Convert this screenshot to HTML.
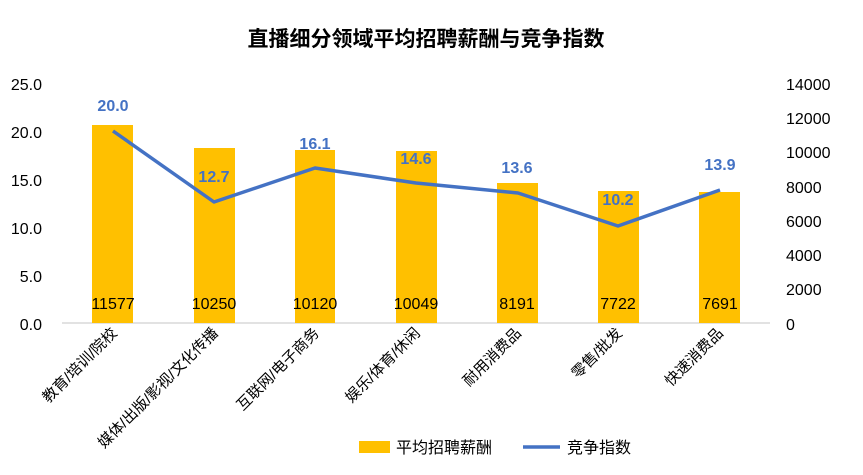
<!DOCTYPE html>
<html><head><meta charset="utf-8"><style>
body{margin:0;background:#fff;}
svg text{font-family:"Liberation Sans","Noto Sans CJK SC",sans-serif;}
</style></head><body>
<svg width="863" height="470" viewBox="0 0 863 470" xmlns="http://www.w3.org/2000/svg">
<rect width="863" height="470" fill="#fff"/>
<text x="426" y="46" text-anchor="middle" font-size="21" font-weight="bold" fill="#000">直播细分领域平均招聘薪酬与竞争指数</text>
<g font-size="16" fill="#000" text-anchor="end">
<text x="42" y="90">25.0</text><text x="42" y="138">20.0</text><text x="42" y="186">15.0</text>
<text x="42" y="234">10.0</text><text x="42" y="282">5.0</text><text x="42" y="330">0.0</text>
</g>
<g font-size="16" fill="#000">
<text x="786" y="90">14000</text><text x="786" y="124">12000</text><text x="786" y="158">10000</text>
<text x="786" y="193">8000</text><text x="786" y="227">6000</text><text x="786" y="261">4000</text>
<text x="786" y="295">2000</text><text x="786" y="330">0</text>
</g>
<line x1="62" y1="323" x2="770" y2="323" stroke="#d9d9d9" stroke-width="1.5"/>
<g fill="#FFC000">
<rect x="92" y="125" width="41" height="198"/>
<rect x="194" y="148" width="41" height="175"/>
<rect x="295" y="150" width="40" height="173"/>
<rect x="396" y="151" width="41" height="172"/>
<rect x="497" y="183" width="41" height="140"/>
<rect x="598" y="191" width="41" height="132"/>
<rect x="699" y="192" width="41" height="131"/>
</g>
<g font-size="16" fill="#000" text-anchor="middle">
<text x="113" y="309">11577</text><text x="214" y="309">10250</text><text x="315" y="309">10120</text>
<text x="416" y="309">10049</text><text x="517" y="309">8191</text><text x="618" y="309">7722</text><text x="720" y="309">7691</text>
</g>
<polyline points="113,131 214,202 315,168 416,183 518,193 618,226 720,190" fill="none" stroke="#4472C4" stroke-width="3.5" stroke-linejoin="round"/>
<g font-size="16" font-weight="bold" fill="#4472C4" text-anchor="middle">
<text x="113" y="111">20.0</text><text x="214" y="182">12.7</text><text x="315" y="149">16.1</text>
<text x="416" y="164">14.6</text><text x="517" y="173">13.6</text><text x="618" y="205">10.2</text><text x="720" y="170">13.9</text>
</g>
<g font-size="15" fill="#000" text-anchor="end">
<text transform="translate(118,334) rotate(-45)">教育/培训/院校</text>
<text transform="translate(219,334) rotate(-45)">媒体/出版/影视/文化传播</text>
<text transform="translate(320,334) rotate(-45)">互联网/电子商务</text>
<text transform="translate(421,334) rotate(-45)">娱乐/体育/休闲</text>
<text transform="translate(522,334) rotate(-45)">耐用消费品</text>
<text transform="translate(623,334) rotate(-45)">零售/批发</text>
<text transform="translate(724,334) rotate(-45)">快速消费品</text>
</g>
<rect x="359" y="441" width="31" height="12" fill="#FFC000"/>
<text x="396" y="453" font-size="16" fill="#000">平均招聘薪酬</text>
<line x1="523" y1="447" x2="560" y2="447" stroke="#4472C4" stroke-width="3.5"/>
<text x="567" y="453" font-size="16" fill="#000">竞争指数</text>
</svg>
</body></html>
